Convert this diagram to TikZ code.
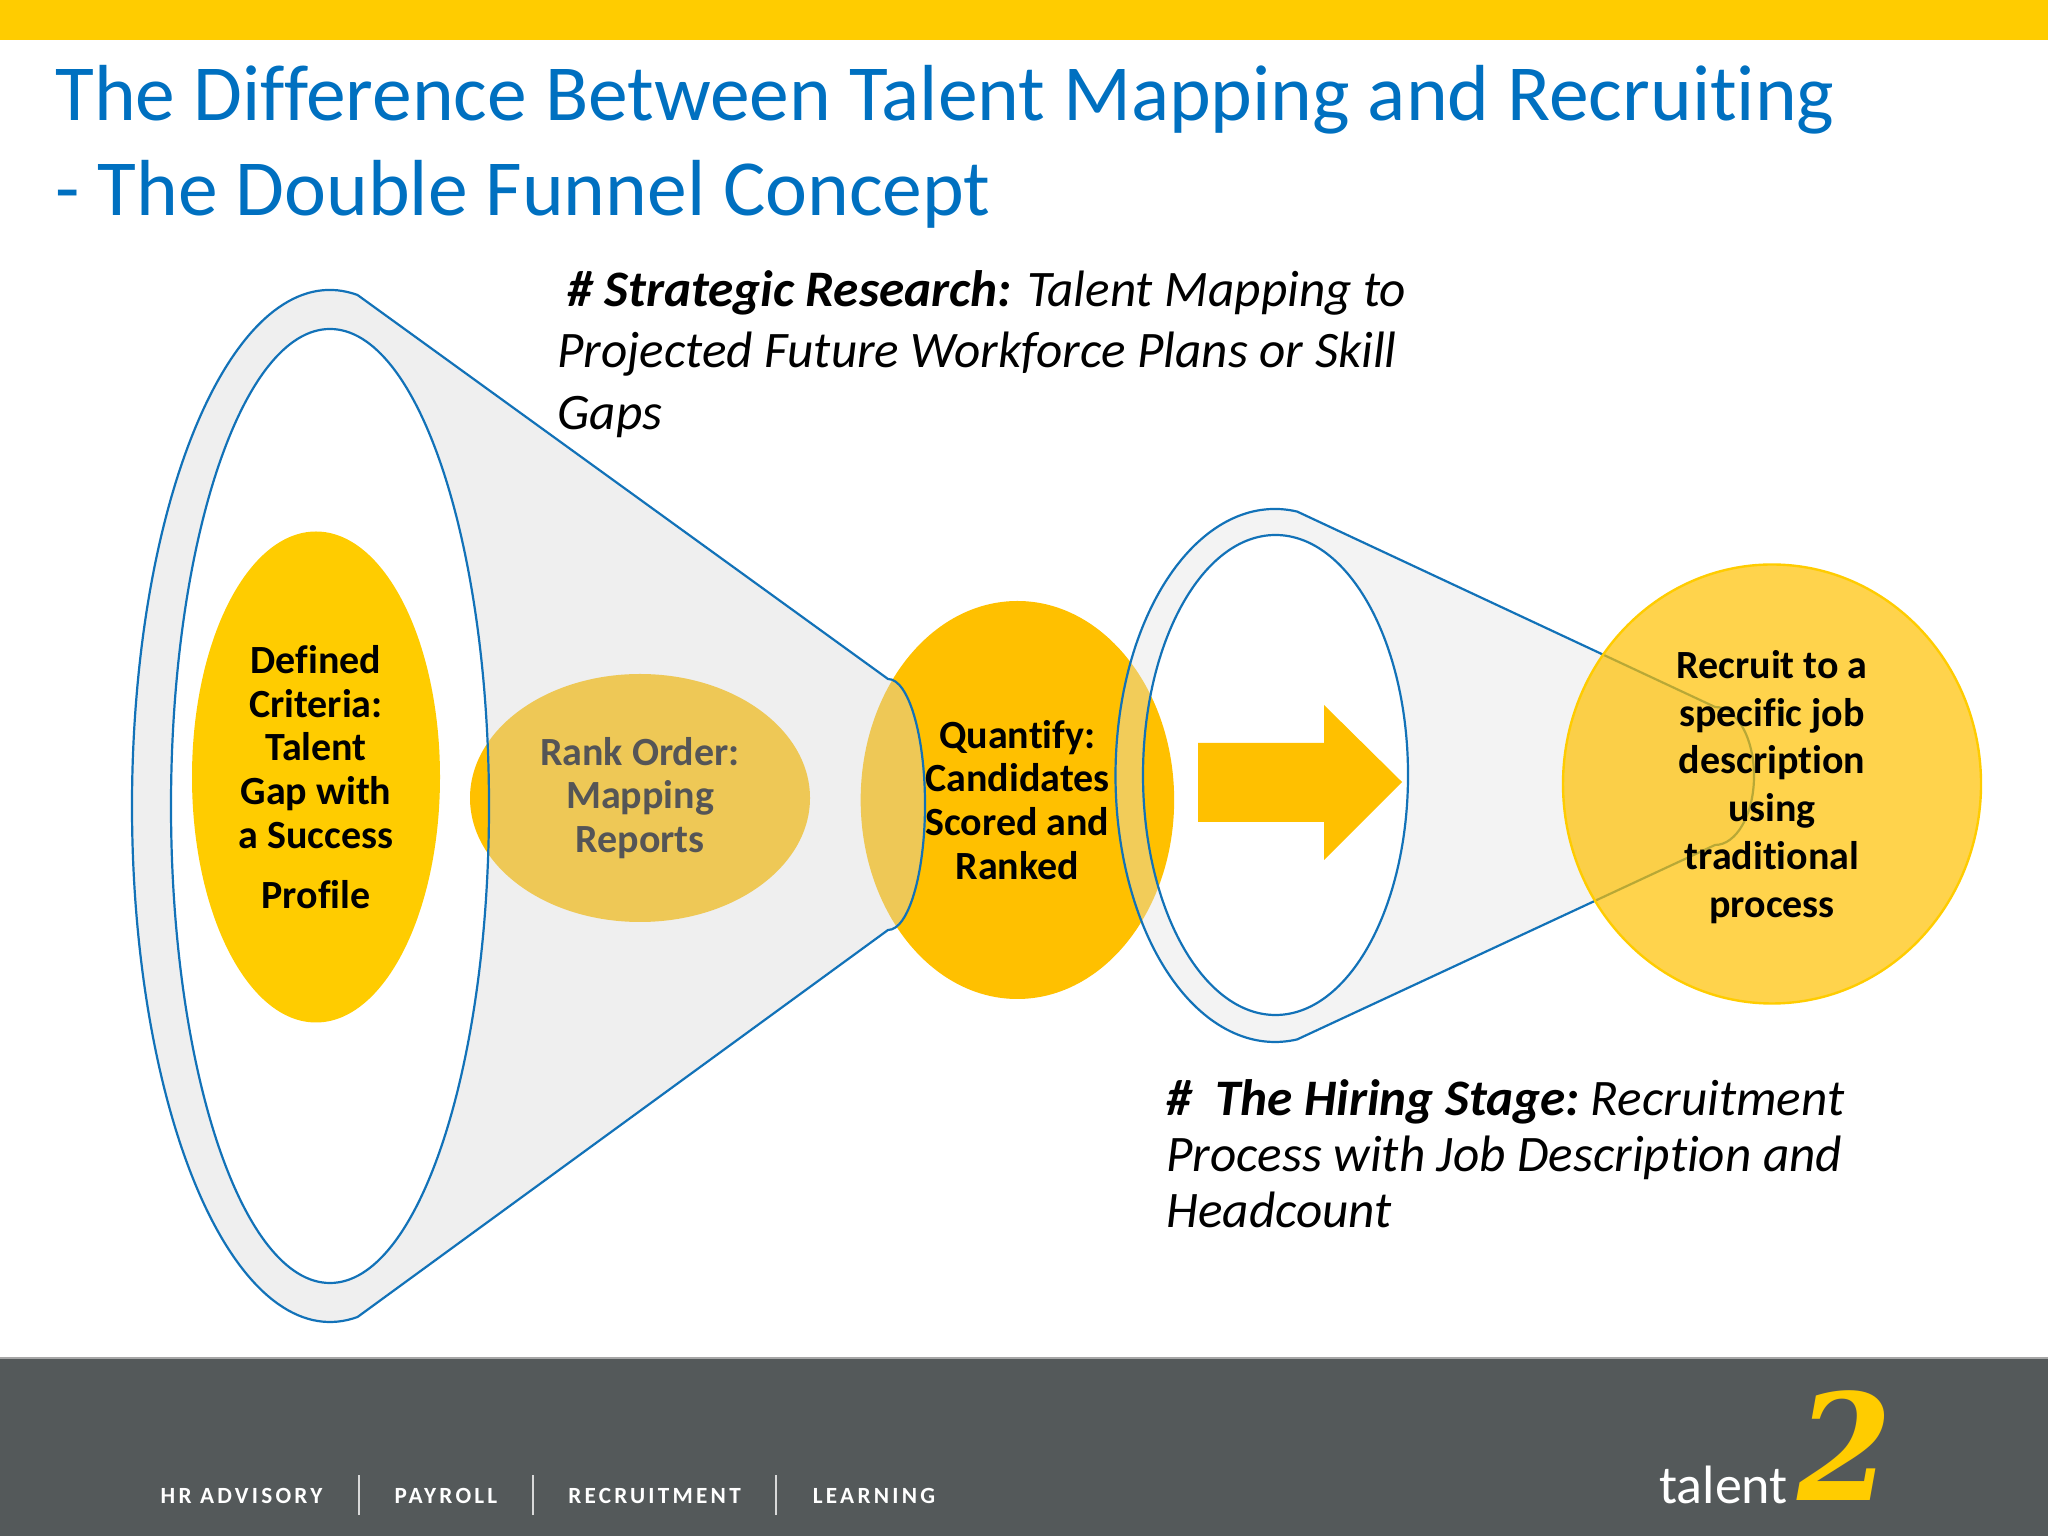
\documentclass[tikz,border=0pt]{standalone}
\usepackage{fontspec}
\setmainfont{Carlito}[Ligatures=NoCommon]
\newfontfamily\tabfont[LetterSpace=14]{Carlito}
\newfontfamily\twofont{DejaVu Serif}
\usetikzlibrary{shapes.geometric}
\definecolor{barYellow}{HTML}{FFCC00}
\definecolor{deepYellow}{HTML}{FFC000}
\definecolor{titleBlue}{HTML}{0070C0}
\definecolor{lineBlue}{HTML}{1272B8}
\definecolor{footGrey}{HTML}{54595A}
\definecolor{funnelA}{HTML}{D6D6D8}
\definecolor{funnelB}{HTML}{E0E0E0}
\tikzset{
	blob/.style={ellipse, inner sep=0pt, align=center, font=\fontsize{20}{21.9}\selectfont\bfseries},
	funnel/.style={draw=lineBlue, line width=1.1pt, even odd rule, fill opacity=0.4},
	note/.style={anchor=north west, inner sep=0pt, align=left},
	tab/.style={text=white, font=\fontsize{11.6}{14}\tabfont\bfseries},
	sep/.style={draw=white!85!black, line width=1pt}
}
\begin{document}
\begin{tikzpicture}[x=0.5pt,y=0.5pt]
		\useasboundingbox (0,0) rectangle (2048,1536);
		\fill[barYellow] (0,1496) rectangle (2048,1536);
		\fill[footGrey] (0,0) rectangle (2048,178);
		\draw[gray!70, line width=1pt] (0,178) -- (2048,178);
		\node[note, text=titleBlue, font=\fontsize{39.75}{47.5}\selectfont] (title) at (55,1471)
			{The Difference Between Talent Mapping and Recruiting\\- The Double Funnel Concept};
		\node[blob, fill=barYellow, minimum width=124pt, minimum height=245.5pt] (criteria) at (316,759)
			{Defined\\Criteria:\\Talent\\Gap with\\a Success\\[8pt]Profile};
		\node[blob, fill=deepYellow, minimum width=170pt, minimum height=124pt] (rank) at (640,738)
			{Rank Order:\\Mapping\\Reports};
		\node[blob, fill=deepYellow, minimum width=156.75pt, minimum height=199pt] (quantify) at (1017.4,736)
			{Quantify:\\Candidates\\Scored and\\Ranked};
		\path[funnel, fill=funnelA]
			(330,730) ++(82:198 and 516) arc[start angle=82, end angle=278, x radius=198, y radius=516]
			-- (888,606) arc[start angle=-90, end angle=90, x radius=37, y radius=125.5] -- cycle
			(330,730) ellipse (159 and 477);
		\path[funnel, fill=funnelB]
			(1275,760.5) ++(82:159.5 and 266.5) arc[start angle=82, end angle=278, x radius=159.5, y radius=266.5]
			-- (1715,691) arc[start angle=-90, end angle=90, x radius=39, y radius=69] -- cycle
			(1275.5,761) ellipse (132.5 and 240);
		\fill[deepYellow] (1198,793) -- (1324,793) -- (1324,831) -- (1402,754) -- (1324,676) -- (1324,714) -- (1198,714) -- cycle;
		\node[blob, draw=barYellow, line width=1.2pt, fill=deepYellow, fill opacity=0.7, text opacity=1, minimum width=209pt, minimum height=219.5pt] (recruit) at (1772,752)
			{\rule{0pt}{17pt}Recruit to a\\[2pt]specific job\\[2pt]description\\[2pt]using\\[2pt]traditional\\[2pt]process};
		\node[note, font=\fontsize{25.6}{30.7}\selectfont\itshape] (strategic) at (557,1266)
			{\hspace*{5pt}\textbf{\# Strategic Research:} Talent Mapping to\\Projected Future Workforce Plans or Skill\\Gaps};
		\node[note, font=\fontsize{25.6}{28}\selectfont\itshape] (hiring) at (1166,457)
			{\textbf{\#\ \ The Hiring Stage:}\hspace{-2pt} Recruitment\\Process with Job Description and\\Headcount};
		\node[tab] (advisory) at (241.5,40) {HR ADVISORY};
		\node[tab] (payroll) at (446,40) {PAYROLL};
		\node[tab] (recruitment) at (654.5,40) {RECRUITMENT};
		\node[tab] (learning) at (874,40) {LEARNING};
		\foreach \x in {359,533,776}
			\draw[sep] (\x,21) -- (\x,61);
		\node[text=white, anchor=base west, inner sep=0pt, font=\fontsize{27}{30}\selectfont] (talent) at (1659,33) {talent};
		\node[text=barYellow, anchor=base west, inner sep=0pt, font=\fontsize{74}{83}\twofont\bfseries\itshape] (two) at (1797,36) {\scalebox{0.92}[1]{2}};
	\end{tikzpicture}
\end{document}
